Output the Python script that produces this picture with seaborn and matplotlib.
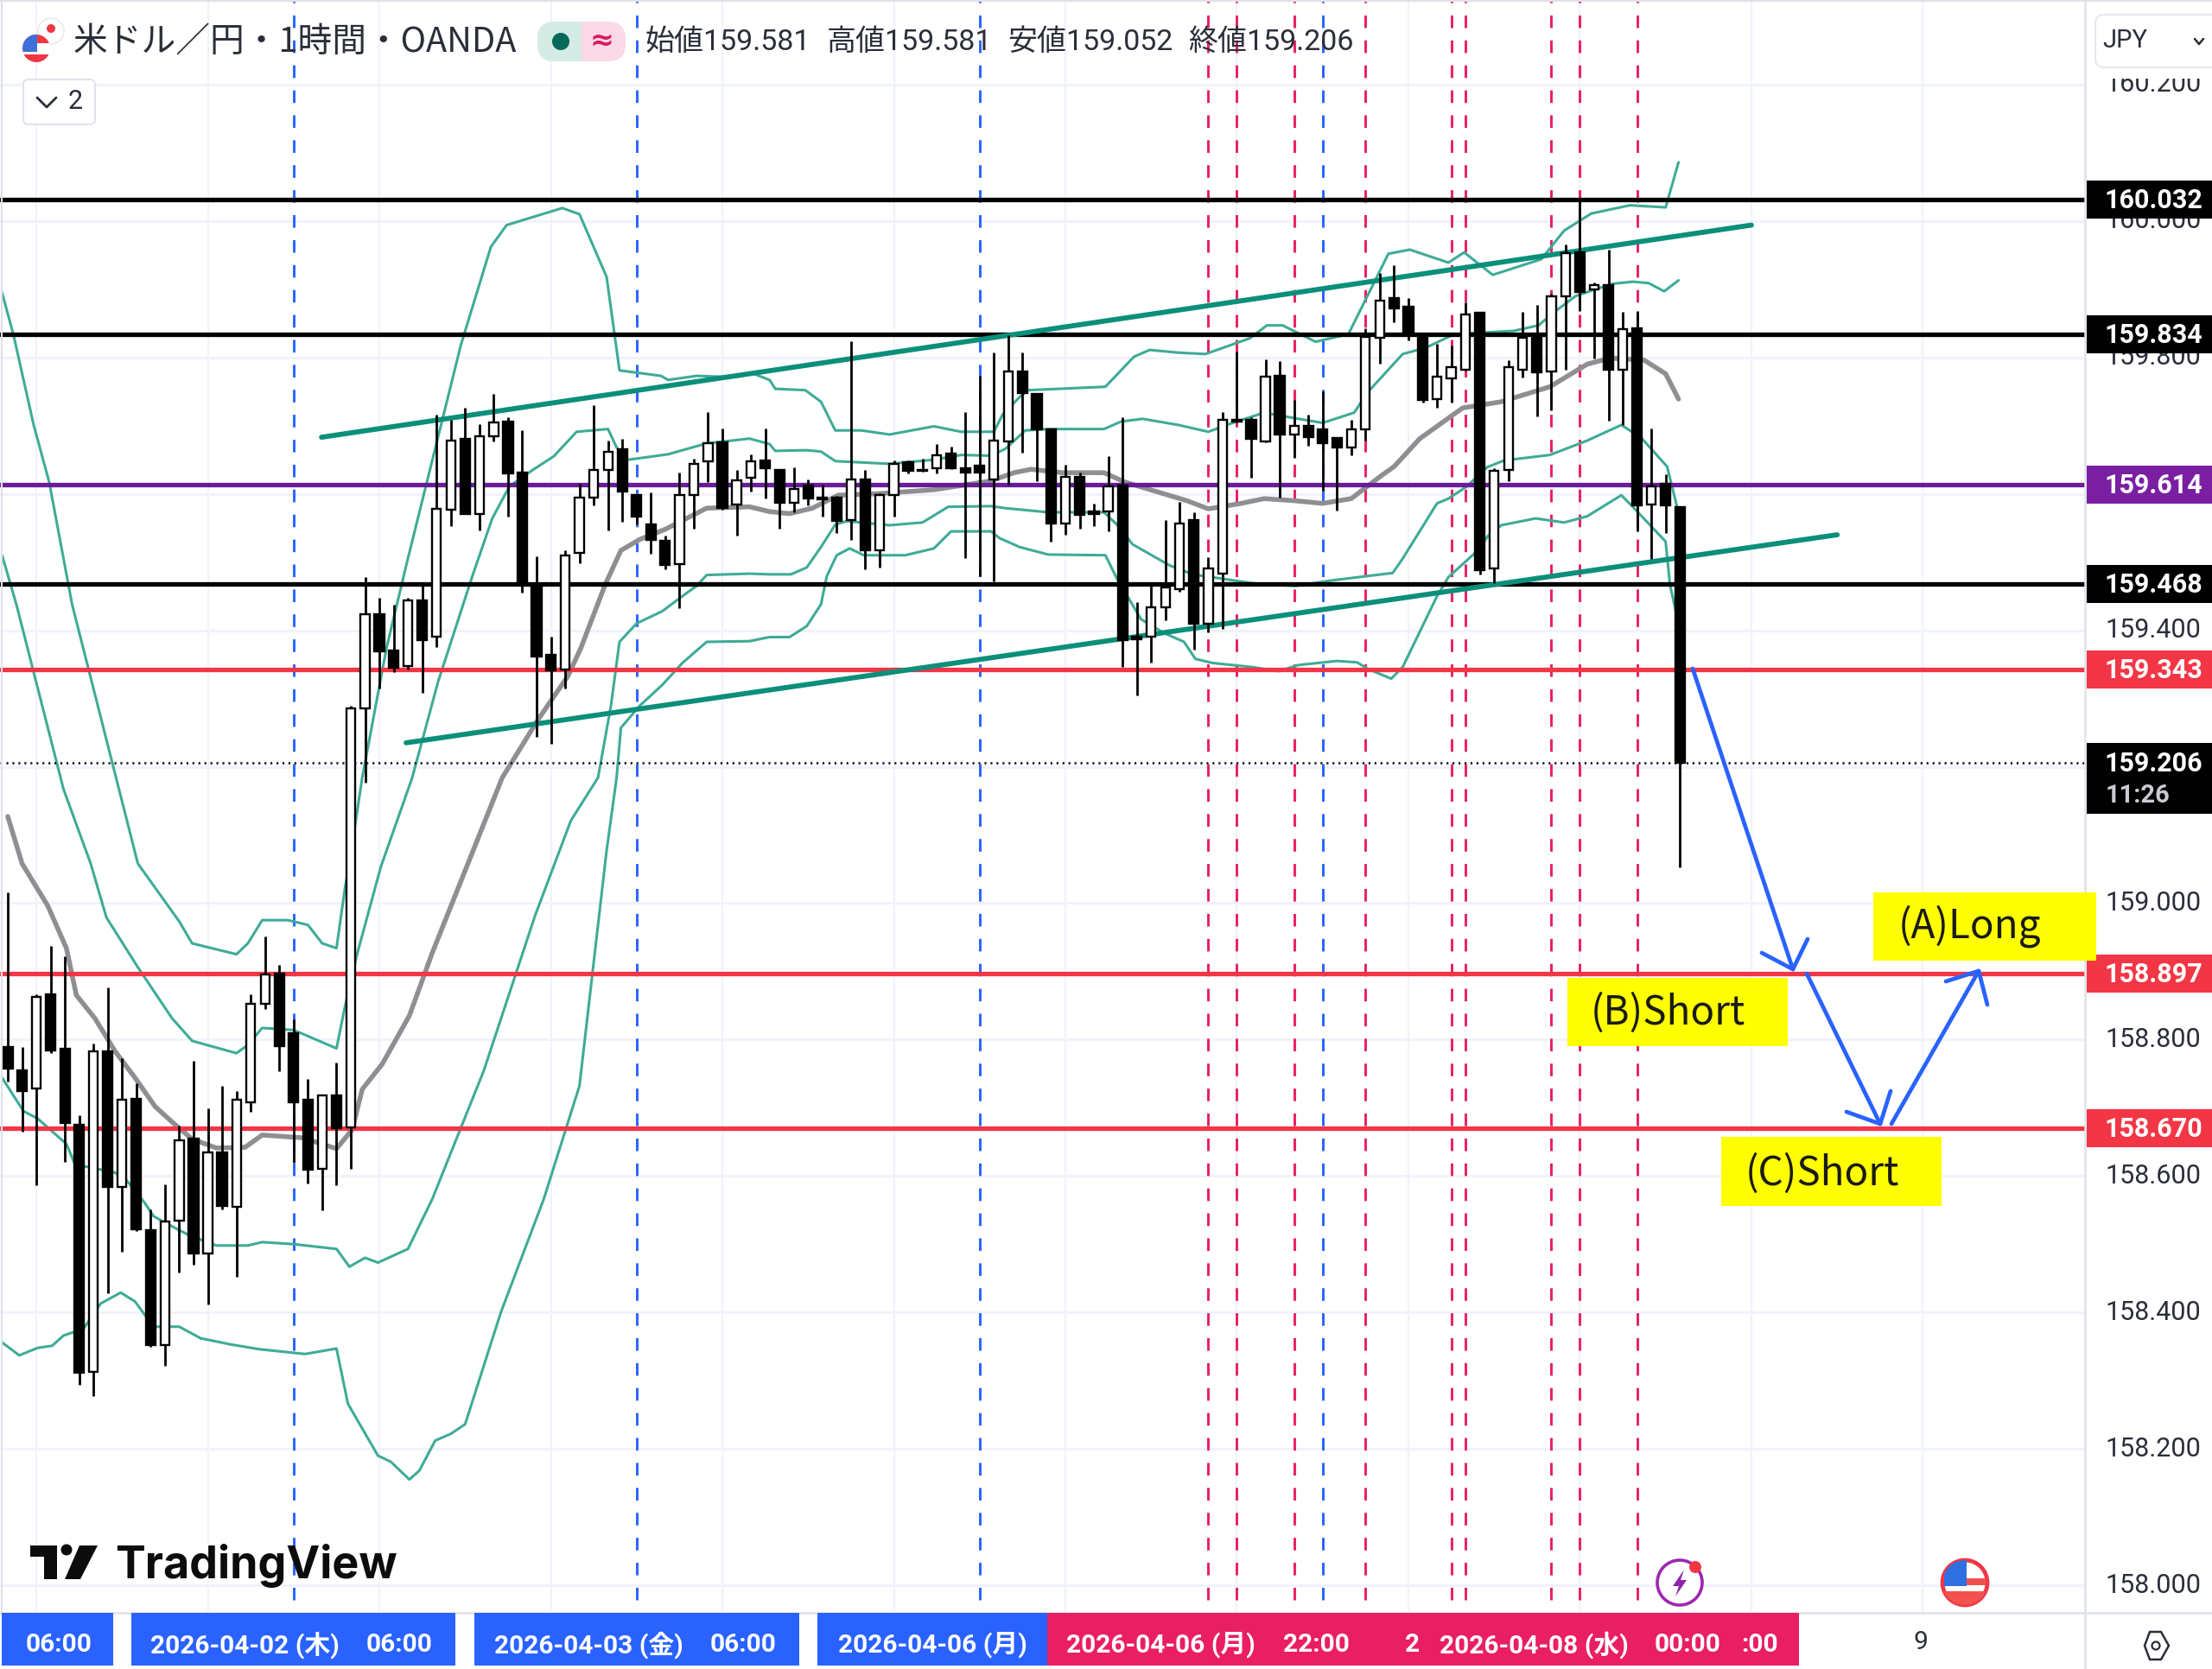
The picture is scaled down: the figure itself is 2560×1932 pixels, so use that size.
import matplotlib
matplotlib.use("Agg")
import matplotlib.pyplot as plt
from matplotlib.patches import Rectangle, FancyBboxPatch, Circle, Polygon
from matplotlib.ticker import FuncFormatter
from matplotlib.transforms import ScaledTranslation
import numpy as np
import seaborn as sns

# ---------------- data: hourly USD/JPY candles (candle index = position) ----------------
opens = [158.789,158.755,158.728,158.866,158.787,158.675,158.313,158.783,158.584,158.713,158.521,158.352,158.535,158.655,158.486,158.635,158.555,158.708,158.852,158.897,
158.809,158.712,158.611,158.718,158.671,159.286,159.424,159.370,159.348,159.444,159.390,159.577,159.680,159.571,159.685,159.706,159.631,159.467,159.364,159.343,
159.514,159.595,159.635,159.666,159.598,159.555,159.531,159.497,159.598,159.648,159.676,159.585,159.624,159.649,159.635,159.587,159.612,159.595,159.595,159.562,
159.621,159.517,159.598,159.647,159.634,159.638,159.659,159.638,159.642,159.621,159.677,159.780,159.746,159.695,159.557,159.625,159.574,159.574,159.612,159.391,
159.390,159.434,159.460,159.562,159.410,159.483,159.709,159.709,159.677,159.773,159.687,159.699,159.695,159.682,159.668,159.695,159.829,159.887,159.875,159.834,
159.739,159.769,159.782,159.865,159.491,159.635,159.782,159.834,159.780,159.890,159.954,159.900,159.906,159.782,159.843,159.585,159.615,159.581]
highs = [159.016,158.789,158.866,158.937,158.922,158.689,158.794,158.877,158.773,158.736,158.551,158.588,158.674,158.769,158.699,158.732,158.725,158.866,158.951,158.909,
158.830,158.742,158.720,158.766,159.289,159.478,159.448,159.438,159.447,159.465,159.716,159.709,159.726,159.702,159.747,159.712,159.693,159.509,159.391,159.517,
159.615,159.730,159.678,159.680,159.600,159.602,159.539,159.631,159.652,159.720,159.696,159.635,159.658,159.696,159.636,159.639,159.621,159.614,159.597,159.824,
159.635,159.601,159.649,159.649,159.652,159.673,159.669,159.720,159.773,159.807,159.833,159.807,159.747,159.696,159.643,159.631,159.586,159.655,159.712,159.441,
159.465,159.562,159.588,159.573,159.507,159.720,159.809,159.712,159.797,159.794,159.737,159.716,159.750,159.682,159.709,159.843,159.924,159.935,159.887,159.834,
159.820,159.818,159.881,159.866,159.638,159.796,159.867,159.877,159.894,159.965,160.032,159.910,159.958,159.867,159.868,159.696,159.629,159.581]
lows = [158.738,158.665,158.586,158.780,158.621,158.294,158.277,158.428,158.489,158.519,158.350,158.322,158.459,158.470,158.412,158.551,158.452,158.694,158.845,158.754,
158.619,158.589,158.550,158.586,158.611,159.177,159.315,159.339,159.343,159.308,159.376,159.553,159.570,159.547,159.677,159.567,159.455,159.244,159.234,159.315,
159.498,159.583,159.547,159.559,159.555,159.512,159.490,159.433,159.549,159.617,159.577,159.539,159.604,159.593,159.549,159.573,159.583,159.567,159.543,159.533,
159.490,159.492,159.567,159.630,159.633,159.630,159.636,159.506,159.479,159.472,159.614,159.661,159.619,159.530,159.540,159.549,159.553,159.545,159.346,159.305,
159.352,159.415,159.457,159.372,159.397,159.402,159.705,159.624,159.676,159.595,159.653,159.671,159.605,159.576,159.657,159.678,159.791,159.852,159.825,159.734,
159.726,159.734,159.781,159.482,159.469,159.619,159.771,159.714,159.723,159.782,159.868,159.799,159.707,159.701,159.545,159.505,159.543,159.052]
closes = [158.757,158.725,158.863,158.784,158.678,158.312,158.783,158.584,158.712,158.522,158.352,158.533,158.652,158.486,158.635,158.556,158.712,158.852,158.896,158.790,
158.708,158.609,158.718,158.670,159.286,159.424,159.369,159.345,159.444,159.386,159.578,159.678,159.571,159.685,159.705,159.630,159.467,159.362,159.341,159.510,
159.595,159.635,159.662,159.604,159.567,159.533,159.496,159.598,159.644,159.674,159.579,159.620,159.648,159.638,159.587,159.607,159.593,159.592,159.560,159.621,
159.517,159.598,159.644,159.634,159.635,159.657,159.638,159.631,159.631,159.678,159.780,159.748,159.695,159.557,159.625,159.569,159.570,159.611,159.386,159.387,
159.434,159.463,159.557,159.409,159.491,159.709,159.706,159.681,159.772,159.687,159.699,159.683,159.674,159.668,159.695,159.830,159.883,159.872,159.834,159.738,
159.772,159.786,159.863,159.488,159.634,159.786,159.829,159.778,159.890,159.953,159.896,159.906,159.782,159.842,159.583,159.611,159.583,159.206]

mid_x = [0,1.0,2.8,4.1,4.8,6.1,7.5,8.9,10.3,11.5,12.9,14.6,16.6,17.8,20.6,23.0,24.1,24.8,26.2,28.1,29.7,34.6,37.1,39.2,40.1,41.8,42.9,44.2,46.0,48.9,51.9,53.3,54.7,56.3,58.1,60.7,64.8,68.8,70.4,71.6,73.8,76.7,78.2,80.9,82.5,84.0,86.3,87.9,90.0,92.0,94.0,96.0,97.0,98.8,101.8,104.5,107.9,110.5,112.1,114.5,116.0,116.9]
mid_y = [159.127,159.058,158.996,158.934,158.865,158.831,158.783,158.744,158.702,158.679,158.654,158.641,158.642,158.660,158.656,158.640,158.668,158.727,158.764,158.835,158.927,159.184,159.269,159.333,159.374,159.467,159.517,159.533,159.548,159.579,159.581,159.574,159.571,159.579,159.598,159.600,159.606,159.619,159.631,159.636,159.631,159.631,159.617,159.600,159.590,159.578,159.586,159.593,159.590,159.586,159.593,159.625,159.640,159.681,159.726,159.735,159.757,159.790,159.799,159.796,159.776,159.739]

u3_x = [-0.4,0.4,1.8,2.9,4.5,9.1,12.0,12.9,16.0,16.8,17.8,19.6,21.0,22.0,23.0,23.6,23.9,24.8,26.5,27.9,29.7,31.7,33.8,34.9,38.8,40.0,41.9,42.8,45.7,46.2,48.2,50.8,52.2,53.3,53.7,55.8,56.9,57.9,59.7,61.7,64.8,66.7,69.0,69.6,70.8,71.4,76.8,78.8,79.9,81.9,83.8,86.9,88.1,89.2,91.5,93.8,96.6,98.1,100.8,101.9,103.9,107.3,108.9,110.8,113.5,116.0,116.9]
u3_y = [159.895,159.833,159.702,159.617,159.438,159.058,158.973,158.941,158.925,158.941,158.975,158.975,158.968,158.941,158.934,159.023,159.058,159.184,159.374,159.497,159.649,159.818,159.962,159.994,160.019,160.010,159.918,159.781,159.773,159.767,159.773,159.771,159.776,159.767,159.754,159.752,159.735,159.693,159.693,159.687,159.699,159.691,159.691,159.716,159.742,159.752,159.757,159.801,159.811,159.807,159.805,159.828,159.847,159.847,159.823,159.834,159.952,159.958,159.939,159.954,159.921,159.944,159.986,160.011,160.023,160.020,160.086]

u2_x = [-0.4,0.6,3.9,5.8,6.9,9.1,11.5,12.9,16.0,16.8,17.8,20.0,23.0,23.6,24.4,26.1,28.3,30.1,32.5,33.9,35.1,36.8,38.2,39.8,42.0,42.6,43.4,46.2,48.9,51.9,53.3,53.7,55.9,56.9,57.9,61.7,64.8,66.7,68.8,69.8,71.2,72.8,76.7,77.9,79.4,81.9,84.0,85.7,87.9,90.3,92.0,94.2,95.2,97.6,99.2,101.2,105.4,107.1,108.3,109.7,111.1,112.3,113.7,114.8,115.9,116.9]
u2_y = [159.510,159.438,159.167,159.058,158.979,158.906,158.831,158.798,158.780,158.792,158.817,158.814,158.787,158.849,158.922,159.053,159.184,159.324,159.479,159.564,159.611,159.636,159.655,159.691,159.695,159.668,159.650,159.658,159.674,159.681,159.673,159.663,159.664,159.662,159.648,159.644,159.650,159.657,159.656,159.666,159.693,159.695,159.695,159.706,159.710,159.701,159.691,159.704,159.719,159.710,159.704,159.719,159.750,159.805,159.814,159.834,159.839,159.847,159.868,159.890,159.900,159.908,159.911,159.909,159.897,159.913]

l2_x = [-0.4,1.1,2.1,4.1,4.7,7.5,8.3,9.6,10.2,11.5,12.8,14.6,16.8,17.8,20.0,23.0,23.9,25.0,25.9,28.0,29.7,33.3,36.9,39.4,41.3,42.2,42.8,44.0,45.8,47.2,48.2,48.9,51.9,53.3,54.8,55.9,56.9,57.9,58.7,61.7,64.0,65.8,68.8,69.8,72.8,76.7,77.6,78.7,81.3,82.9,87.1,90.1,92.6,96.9,97.6,100.0,100.8,102.1,103.5,104.7,107.9,110.5,112.9,114.3,116.1,117.0]
l2_y = [158.744,158.695,158.684,158.647,158.617,158.605,158.594,158.560,158.541,158.526,158.512,158.498,158.498,158.503,158.500,158.493,158.467,158.480,158.473,158.493,158.566,158.754,158.982,159.121,159.184,159.289,159.383,159.410,159.428,159.450,159.465,159.481,159.483,159.482,159.482,159.492,159.522,159.555,159.560,159.554,159.558,159.581,159.582,159.579,159.573,159.573,159.555,159.526,159.495,159.482,159.469,159.465,159.473,159.484,159.505,159.586,159.593,159.611,159.639,159.649,159.657,159.678,159.701,159.682,159.640,159.564]

l3_x = [-0.4,0.8,2.1,3.1,3.9,5.3,6.5,7.9,8.9,10.2,12.0,13.5,15.6,17.6,20.8,23.0,23.8,25.9,26.8,28.1,28.8,29.9,31.0,32.0,34.5,37.5,40.0,41.9,42.6,42.9,44.2,45.8,47.2,48.9,51.9,53.3,54.7,55.9,56.9,57.3,58.0,58.9,59.9,62.8,64.8,66.0,68.8,69.4,70.8,72.8,76.8,77.6,79.3,80.9,82.3,83.1,84.3,87.1,88.9,90.3,93.0,94.4,95.2,96.8,97.6,100.0,100.8,102.7,103.6,104.5,106.9,108.9,110.5,112.9,113.7,116.0,116.3,117.0]
l3_y = [158.356,158.337,158.348,158.351,158.366,158.376,158.413,158.429,158.416,158.379,158.379,158.362,158.353,158.346,158.339,158.347,158.266,158.190,158.181,158.155,158.168,158.212,158.222,158.236,158.400,158.566,158.732,159.077,159.184,159.257,159.289,159.320,159.352,159.383,159.384,159.390,159.390,159.406,159.438,159.479,159.510,159.520,159.510,159.510,159.520,159.545,159.545,159.535,159.522,159.511,159.510,159.476,159.416,159.396,159.383,159.358,159.352,159.346,159.340,159.349,159.355,159.353,159.343,159.329,159.346,159.450,159.478,159.514,159.539,159.554,159.564,159.558,159.567,159.598,159.581,159.530,159.467,159.400]

channel_upper_x, channel_upper_y = [21.95, 122.0], [159.683, 159.994]
channel_lower_x, channel_lower_y = [27.87, 128.0], [159.235, 159.540]

level_prices = [160.032, 159.834, 159.614, 159.468, 159.343, 158.897, 158.670]
level_colors = ["#000000", "#000000", "#7b1fa2", "#000000", "#f23645", "#f23645", "#f23645"]
last_price, countdown = 159.206, "11:26"

price_ticks = [158.0,158.2,158.4,158.6,158.8,159.0,159.2,159.4,159.6,159.8,160.0,160.2]
hidden_ticks = [159.2, 159.6]
time_grid = [2,14,26,38,50,62,74,86,98,110,122,134]
blue_marks = [20,44,68,92]
red_marks = [84,86,90,95,101,102,108,110,114]

title = "米ドル／円・1時間・OANDA"
ohlc_text = ["始値159.581", "高値159.581", "安値159.052", "終値159.206"]
blue_tags = ["06:00", "2026-04-02 (木)", "06:00", "2026-04-03 (金)", "06:00", "2026-04-06 (月)"]
pink_tags = ["2026-04-06 (月)", "22:00", "2", "2026-04-08 (水)", "00:00", ":00"]
call_labels = ["(A)Long", "(B)Short", "(C)Short"]

# ---------------- figure ----------------
sns.set_theme(style="white")
CJK = ["Noto Sans CJK JP", "DejaVu Sans"]
NUM = ["Roboto", "Noto Sans CJK JP", "DejaVu Sans"]
plt.rcParams["font.family"] = NUM
plt.rcParams["lines.scale_dashes"] = False

W, H = 2560, 1932
fig = plt.figure(figsize=(W/100, H/100), dpi=100, facecolor="white")
ax = fig.add_axes([0, 1-1867/H, 2413/W, 1867/H])
ax.set_xlim(-0.544, 145.34)
ax.set_ylim(157.9595, 160.324)
for s in ax.spines.values():
    s.set_visible(False)

TEAL, TEAL_DARK, GREY = "#3fab97", "#0b8f7a", "#8f8f93"
for t in price_ticks:
    ax.axhline(t, color="#f0f3fa", lw=2.2, zorder=1)
for t in time_grid:
    ax.axvline(t, color="#f0f3fa", lw=1.6, zorder=1)
for t in blue_marks:
    ax.axvline(t, ymin=15/1867, color="#2962ff", lw=2.1, ls=(0, (10.5, 10.3)), zorder=2)
for t in red_marks:
    ax.axvline(t, ymin=15/1867, color="#e91e63", lw=2.1, ls=(0, (10.5, 10.3)), zorder=2)

for bx, by in [(u3_x, u3_y), (u2_x, u2_y), (l2_x, l2_y), (l3_x, l3_y)]:
    sns.lineplot(x=bx, y=by, ax=ax, color=TEAL, lw=2.2, sort=False, estimator=None, legend=False, zorder=3)
sns.lineplot(x=mid_x, y=mid_y, ax=ax, color=GREY, lw=4.0, sort=False, estimator=None, legend=False, zorder=3)

for p, c in zip(level_prices, level_colors):
    ax.axhline(p, color=("#6a1b9a" if c == "#7b1fa2" else c), lw=3.8, zorder=4)
ax.axhline(last_price, color="#222222", lw=2.0, ls=(0, (1.6, 3.4)), zorder=4)

for cx, cy in [(channel_upper_x, channel_upper_y), (channel_lower_x, channel_lower_y)]:
    sns.lineplot(x=cx, y=cy, ax=ax, color=TEAL_DARK, lw=4.2, sort=False, estimator=None, legend=False, zorder=5)

o, h, l, c = map(np.array, (opens, highs, lows, closes))
idx = np.arange(len(o))
up = c >= o
ax.vlines(idx, l, h, color="black", lw=2.0, zorder=6)
ax.bar(idx[up], (c-o)[up], bottom=o[up], width=0.62, color="white", edgecolor="black", linewidth=1.7, zorder=7)
ax.bar(idx[~up], (c-o)[~up], bottom=o[~up], width=0.68, color="black", edgecolor="black", linewidth=1.7, zorder=7)

ax.set_xlabel(""); ax.set_ylabel("")
ax.set_xticks([])
ax.yaxis.tick_right()
ax.set_yticks(price_ticks)
ax.yaxis.set_major_formatter(FuncFormatter(lambda v, _: "" if round(v, 1) in hidden_ticks else f"{v:.3f}"))
ax.tick_params(axis="y", length=0, pad=17, labelsize=22, labelcolor="#2a2e39")
lift = ScaledTranslation(0, 3/100, fig.dpi_scale_trans)
for lab in ax.get_yticklabels():
    lab.set_transform(lab.get_transform() + lift)

# ---------------- overlay in image pixels: labels, tags, icons ----------------
ov = fig.add_axes([0, 0, 1, 1], zorder=10)
ov.set_xlim(0, W); ov.set_ylim(H, 0); ov.axis("off")
fig.canvas.draw()
def py(p):
    return H - ax.transData.transform((0, p))[1]

LINE = "#dfe2e8"
ov.add_patch(Rectangle((2415, 0), 145, 91, fc="white", ec="none", zorder=0.5))
ov.plot([2413, 2413], [0, H], color=LINE, lw=1.8, zorder=1)
ov.plot([0, W], [1867, 1867], color=LINE, lw=1.8, zorder=1)
ov.plot([0, W], [1, 1], color=LINE, lw=1.5, zorder=1)
ov.plot([1.5, 1.5], [0, 1867], color=LINE, lw=1.5, zorder=1)

# price labels
for p, col in zip(level_prices, level_colors):
    y = py(p)
    ov.add_patch(Rectangle((2415, y-22), 145, 44, fc=col, ec="none", zorder=3))
    ov.text(2492, y+1, f"{p:.3f}", color="white", fontsize=22, fontweight="bold", ha="center", va="center", zorder=4)
y = py(last_price)
ov.add_patch(Rectangle((2415, y-23), 145, 82, fc="#000000", ec="none", zorder=3))
ov.text(2492, y+1, f"{last_price:.3f}", color="white", fontsize=22, fontweight="bold", ha="center", va="center", zorder=4)
ov.text(2437, y+38, countdown, color="#c9cbd1", fontsize=21, fontweight="bold", ha="left", va="center", zorder=4)

# JPY selector
ov.add_patch(FancyBboxPatch((2425, 17), 160, 61, boxstyle="round,pad=0,rounding_size=10", fc="white", ec="#e6e8ee", lw=1.5, zorder=5))
ov.text(2433, 47, "JPY", fontsize=21, color="#2a2e39", ha="left", va="center", zorder=6)
ov.plot([2540, 2545, 2550], [45, 51, 45], color="#2a2e39", lw=1.8, zorder=6)

# header
ov.text(85, 50, title, family=CJK, fontsize=28.6, color="#2a2e39", ha="left", va="center")
for xt, s in zip([747, 957, 1166, 1375], ohlc_text):
    ov.text(xt, 49, s, family=NUM, fontsize=24.5, color="#2a2e39", ha="left", va="center")
# flags
ov.add_patch(Circle((59, 36), 15, fc="white", ec="#e4e6ea", lw=1))
ov.add_patch(Circle((59, 33), 5, fc="#f23645", ec="none"))
top_flag = Circle((42, 56), 16, fc="white", ec="none")
ov.add_patch(top_flag)
for rect in [Rectangle((26, 38), 34, 12, fc="#f23645", ec="none"),
             Rectangle((26, 63), 34, 10, fc="#f23645", ec="none"),
             Rectangle((26, 38), 17, 22, fc="#3f6fd8", ec="none")]:
    ov.add_patch(rect)
    rect.set_clip_path(top_flag)
# status pill
pill_r = FancyBboxPatch((622, 25), 102, 46, boxstyle="round,pad=0,rounding_size=20", fc="#fbd9e6", ec="none")
ov.add_patch(pill_r)
pill_l = FancyBboxPatch((622, 25), 102, 46, boxstyle="round,pad=0,rounding_size=20", fc="#d4ece5", ec="none")
ov.add_patch(pill_l)
pill_l.set_clip_path(Rectangle((622, 25), 51, 46, transform=ov.transData))
ov.add_patch(Circle((649, 48), 10, fc="#07695a", ec="none"))
ov.text(697, 47, "≈", family=["DejaVu Sans"], fontsize=24, fontweight="bold", color="#d81b60", ha="center", va="center")
# "2" button
ov.add_patch(FancyBboxPatch((27, 92), 83, 52, boxstyle="round,pad=0,rounding_size=6", fc="white", ec="#e0e3eb", lw=1.5))
ov.plot([43, 54, 65], [113, 124, 113], color="#2a2e39", lw=2)
ov.text(87, 118, "2", fontsize=22, color="#2a2e39", ha="center", va="center")

# time tags
for x0, x1, col in [(2, 131, "#2962ff"), (152, 527, "#2962ff"), (549, 925, "#2962ff"), (946, 1212, "#2962ff"), (1212, 2082, "#e91e63")]:
    ov.add_patch(Rectangle((x0, 1867), x1-x0, 61, fc=col, ec="none", zorder=3))
for xc, s in zip([68, 283, 462, 681, 860, 1079], blue_tags):
    ov.text(xc, 1904, s, color="white", fontsize=21.5, fontweight="bold", ha="center", va="center", zorder=4)
for xc, s in zip([1343, 1523, 1635, 1775, 1953, 2037], pink_tags):
    ov.text(xc, 1904, s, color="white", fontsize=21.5, fontweight="bold", ha="center", va="center", zorder=4)
ov.text(2223, 1901, "9", color="#2a2e39", fontsize=21.5, ha="center", va="center")
ov.add_patch(Polygon([(2482, 1905), (2488, 1889), (2501, 1889), (2510, 1905), (2501, 1921), (2488, 1921)], closed=True, fc="white", ec="#2a2e39", lw=1.8))
ov.add_patch(Circle((2495, 1905), 4.5, fc="white", ec="#2a2e39", lw=1.6))

# TradingView logo
ov.add_patch(Polygon([(35, 1789), (66, 1789), (66, 1828), (51, 1828), (51, 1802), (35, 1802)], closed=True, fc="#0c0c0c", ec="none"))
ov.add_patch(Circle((77, 1794), 6.5, fc="#0c0c0c", ec="none"))
ov.add_patch(Polygon([(92, 1789), (113, 1789), (93, 1828), (75, 1828)], closed=True, fc="#0c0c0c", ec="none"))
ov.text(133, 1813, "TradingView", family=["Inter", "DejaVu Sans"], fontsize=37.5, fontweight="bold", color="#0c0c0c", ha="left", va="center")

# event icons
ov.add_patch(Circle((1944, 1832), 26, fc="white", ec="#9c27b0", lw=2.6))
ov.add_patch(Polygon([(1949, 1817), (1936, 1836), (1943, 1836), (1939, 1848), (1952, 1829), (1945, 1829)], closed=True, fc="#8e24aa", ec="none"))
ov.add_patch(Circle((1962, 1814), 7, fc="#f23645", ec="none"))
flag_disc = Circle((2274, 1832), 26, fc="white", ec="#f23645", lw=3.4)
ov.add_patch(flag_disc)
for rect in [Rectangle((2250, 1842), 48, 16, fc="#f2514f", ec="none"),
             Rectangle((2275, 1827), 23, 8, fc="#f2514f", ec="none"),
             Rectangle((2250, 1806), 26, 30, fc="#2f6fe0", ec="none")]:
    ov.add_patch(rect)
    rect.set_clip_path(flag_disc)

# scenario arrows
ARROW = "#2962ff"
for path, barbs in [
    ([(1959, 774), (2075, 1122)], [(2039, 1103), (2075, 1122), (2092, 1087)]),
    ([(2091, 1127), (2176, 1301)], [(2137, 1287), (2176, 1301), (2188, 1263)]),
    ([(2189, 1301), (2290, 1124)], [(2252, 1136), (2290, 1124), (2300, 1163)]),
]:
    for pts in (path, barbs):
        xs, ys = zip(*pts)
        ov.plot(xs, ys, color=ARROW, lw=3.4, solid_capstyle="round", solid_joinstyle="round", zorder=6)

# yellow call-outs
for (x0, y0, x1, y1), tx, s, dy in zip([(2168, 1033, 2426, 1112), (1814, 1132, 2069, 1211), (1992, 1316, 2247, 1396)], [2197, 1841, 2020], call_labels, [0, 1, 3]):
    ov.add_patch(Rectangle((x0, y0), x1-x0, y1-y0, fc="#ffff00", ec="none", zorder=7))
    ov.text(tx, (y0+y1)/2+dy, s, family=CJK, fontsize=33, color="#1a1a1a", ha="left", va="center", zorder=8)

fig.savefig("out.png", dpi=100, facecolor="white")
img = plt.imread("out.png")
if img.shape[:2] != (H, W):
    plt.imsave("out.png", img[:H, :W])
